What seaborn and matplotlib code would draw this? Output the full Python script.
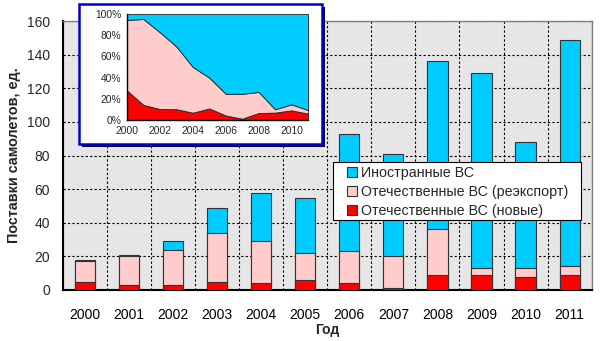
import numpy as np
import pandas as pd
import matplotlib
matplotlib.use("Agg")
import matplotlib.pyplot as plt
from matplotlib.patches import Rectangle, Patch
from matplotlib.ticker import FuncFormatter, MultipleLocator
import seaborn as sns

years = [2000, 2001, 2002, 2003, 2004, 2005, 2006, 2007, 2008, 2009, 2010, 2011]
domestic_new = [5, 3, 3, 5, 4, 6, 4, 1, 9, 9, 8, 9]
domestic_reexport = [12, 17, 21, 29, 25, 16, 19, 19, 27, 4, 5, 5]
foreign = [1, 1, 5, 15, 29, 33, 70, 61, 100, 116, 75, 135]

labels = ["Иностранные ВС", "Отечественные ВС (реэкспорт)", "Отечественные ВС (новые)"]
c_foreign = "#00CCFF"
c_reexp = "#FFCCCC"
c_new = "#FF0000"

sns.set_theme(style="white")
plt.rcParams["font.family"] = ["Liberation Sans", "DejaVu Sans"]

df = pd.DataFrame({"year": [str(y) for y in years],
                   "new": domestic_new, "re": domestic_reexport, "fo": foreign})
df["lvl1"] = df["new"]
df["lvl2"] = df["new"] + df["re"]
df["lvl3"] = df["lvl2"] + df["fo"]

W, H = 600.0, 341.0
fig = plt.figure(figsize=(6.0, 3.41), dpi=100)
ax = fig.add_axes([0.1045, 0.1496, 0.8817, 0.7886])
ax.set_facecolor("#E6E6E6")

for col, colr in [("lvl3", c_foreign), ("lvl2", c_reexp), ("lvl1", c_new)]:
    sns.barplot(data=df, x="year", y=col, color=colr, ax=ax, width=0.46,
                edgecolor="#333333", linewidth=0.8, saturation=1, zorder=3)

ax.set_xlim(-0.5, 11.5)
ax.set_ylim(0, 160)
ax.yaxis.set_major_locator(MultipleLocator(20))
ax.set_xticks(np.arange(-0.5, 12, 1.0), minor=True)
ax.tick_params(axis="x", which="major", length=0, labelsize=10, pad=13, colors="black")
ax.tick_params(axis="x", which="minor", length=5, width=1.2, direction="out", color="black")
ax.tick_params(axis="y", which="major", length=4, width=1.2, direction="out", labelsize=10,
               pad=5, color="black")
ax.grid(True, axis="y", which="major", linestyle=(0, (2, 2)), color="black", linewidth=0.8, zorder=0)
ax.grid(True, axis="x", which="minor", linestyle=(0, (2, 2)), color="black", linewidth=0.8, zorder=0)
ax.set_axisbelow(True)
for s in ["left", "bottom"]:
    ax.spines[s].set_color("black")
    ax.spines[s].set_linewidth(1.5)
for s in ["top", "right"]:
    ax.spines[s].set_color("#808080")
    ax.spines[s].set_linewidth(1.0)
ax.set_xlabel("Год", fontsize=10, fontweight="bold", labelpad=1)
ax.set_ylabel("Поставки самолетов, ед.", fontsize=10.4, fontweight="bold", labelpad=4)

# legend frame (drawn separately for Excel-like padding)
lx0, ly0, lx1, ly1 = 332.5, 162, 581, 220
fig.patches.append(Rectangle((lx0 / W, 1 - ly1 / H), (lx1 - lx0) / W, (ly1 - ly0) / H,
                             transform=fig.transFigure, facecolor="white", edgecolor="black",
                             linewidth=0.8, zorder=8))
handles = [Patch(facecolor=c, edgecolor="#333333", linewidth=0.8) for c in [c_foreign, c_reexp, c_new]]
leg = fig.legend(handles, labels, loc="upper left", bbox_to_anchor=(347 / W, 1 - 166 / H),
                 bbox_transform=fig.transFigure,
                 fontsize=10.3, frameon=False, handlelength=0.7, handleheight=0.7,
                 handletextpad=0.25, borderpad=0, labelspacing=0.36, borderaxespad=0)
leg.set_zorder(10)

# inset frame
x0, y0, x1, y1 = 79, 4, 322, 144
fig.patches.append(Rectangle((x0 / W + 3 / W, 1 - y1 / H - 3 / H), (x1 - x0) / W, (y1 - y0) / H,
                             transform=fig.transFigure, facecolor="#000040", edgecolor="none", zorder=4))
fig.patches.append(Rectangle((x0 / W, 1 - y1 / H), (x1 - x0) / W, (y1 - y0) / H,
                             transform=fig.transFigure, facecolor="white", edgecolor="#0000CC",
                             linewidth=1.8, zorder=5))

ins = fig.add_axes([127 / W, 1 - 120 / H, 181 / W, 106 / H])
ins.set_zorder(6)
ins.set_facecolor("white")
tot = df["lvl3"].to_numpy(dtype=float)
s_new = df["new"].to_numpy() / tot
s_re = df["re"].to_numpy() / tot
s_fo = df["fo"].to_numpy() / tot
ins.stackplot(years, s_new, s_re, s_fo, colors=[c_new, c_reexp, c_foreign],
              edgecolor="#222222", linewidth=0.6)
ins.set_xlim(2000, 2011)
ins.set_ylim(0, 1)
ins.set_xticks(range(2000, 2011, 2))
ins.set_yticks(np.arange(0, 1.01, 0.2))
ins.yaxis.set_major_formatter(FuncFormatter(lambda v, p: f"{v * 100:.0f}%"))
ins.tick_params(axis="both", labelsize=7.4, length=2.5, width=0.8, direction="out", pad=1.5, color="black")
for s in ["left", "bottom"]:
    ins.spines[s].set_color("black")
    ins.spines[s].set_linewidth(1.0)
for s in ["top", "right"]:
    ins.spines[s].set_visible(False)
ins.set_xlabel("")
ins.set_ylabel("")

fig.savefig("out.png", dpi=100)
